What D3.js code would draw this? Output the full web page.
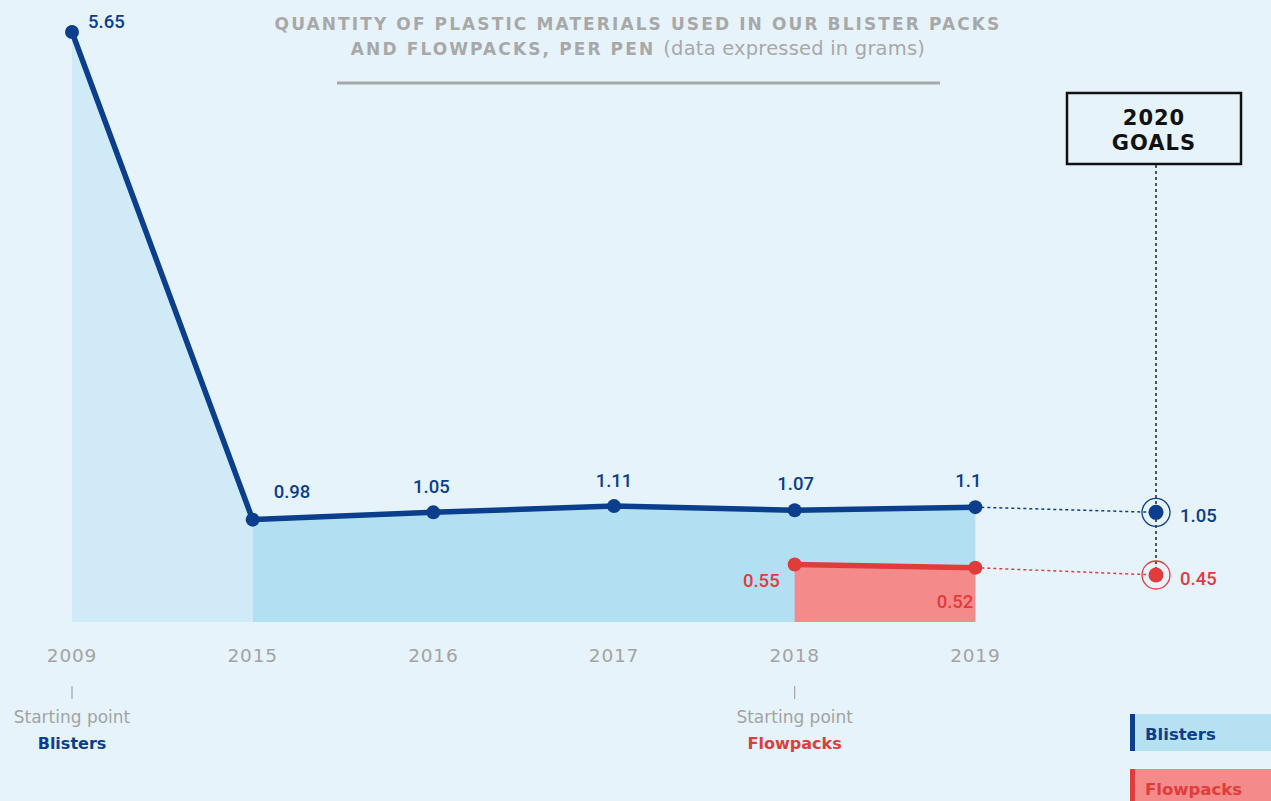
<!DOCTYPE html>
<html>
<head>
<meta charset="utf-8">
<script src="https://cdn.jsdelivr.net/npm/d3@7"></script>
<style>
  html, body { margin: 0; padding: 0; background: #e6f3fa; }
  svg { display: block; }
  text { font-family: "DejaVu Sans", sans-serif; }
  .year { font-size: 18.5px; fill: #a3a3a3; letter-spacing: 0.8px; }
  .title { font-weight: bold; font-size: 17px; fill: #a8a8a8; letter-spacing: 2.1px; }
  .val { font-family: Roboto, "Liberation Sans", sans-serif; font-weight: 500; font-size: 18.5px; }
</style>
</head>
<body>
<div id="chart"></div>
<script>
// data
const years = ['2009', '2015', '2016', '2017', '2018', '2019'];
const blisters = [5.65, 0.98, 1.05, 1.11, 1.07, 1.1];
const flowYears = ['2018', '2019'];
const flowpacks = [0.55, 0.52];
const goalYear = '2020';
const goalBlisters = 1.05;
const goalFlowpacks = 0.45;

const W = 1271, H = 801;
const blue = '#0b3e8c', red = '#e03c3c';

const svg = d3.select('#chart').append('svg')
  .attr('width', W).attr('height', H);

svg.append('rect').attr('width', W).attr('height', H).attr('fill', '#e6f3fa');

const x = d3.scalePoint().domain([...years, goalYear]).range([72, 1156]);
const y = d3.scaleLinear().domain([0, 5.65]).range([622, 32]);

const bData = years.map((yr, i) => ({ yr, v: blisters[i] }));
const fData = flowYears.map((yr, i) => ({ yr, v: flowpacks[i] }));

const area = d3.area().x(d => x(d.yr)).y0(y(0)).y1(d => y(d.v));
const line = d3.line().x(d => x(d.yr)).y(d => y(d.v));

// areas
svg.append('path').datum(bData.slice(0, 2)).attr('d', area).attr('fill', '#d0ebf7');
svg.append('path').datum(bData.slice(1)).attr('d', area).attr('fill', '#b2e0f2');
svg.append('path').datum(fData).attr('d', area).attr('fill', '#f48a89');

// title
const title = svg.append('text').attr('text-anchor', 'middle').attr('class', 'title');
title.append('tspan').attr('x', 638).attr('y', 30).text('QUANTITY OF PLASTIC MATERIALS USED IN OUR BLISTER PACKS');
const t2 = title.append('tspan').attr('x', 638).attr('y', 55);
t2.append('tspan').text('AND FLOWPACKS, PER PEN ');
t2.append('tspan').attr('font-weight', 'normal').attr('letter-spacing', 0.2).attr('font-size', 19.5).text('(data expressed in grams)');
svg.append('line').attr('x1', 337).attr('x2', 940).attr('y1', 83).attr('y2', 83)
  .attr('stroke', '#a8a8a8').attr('stroke-width', 3);

// goals box + vertical dotted guide
const gx = x(goalYear);
svg.append('line').attr('x1', gx).attr('x2', gx).attr('y1', 165).attr('y2', y(goalFlowpacks))
  .attr('stroke', '#222').attr('stroke-width', 1.5).attr('stroke-dasharray', '3,3');
svg.append('rect').attr('x', 1067).attr('y', 93).attr('width', 174).attr('height', 71)
  .attr('fill', '#e6f3fa').attr('stroke', '#111').attr('stroke-width', 2.5);
const gt = svg.append('text').attr('text-anchor', 'middle')
  .attr('font-weight', 'bold').attr('letter-spacing', 1)
  .attr('font-size', 21).attr('fill', '#111');
gt.append('tspan').attr('x', 1154).attr('y', 125).text('2020');
gt.append('tspan').attr('x', 1154).attr('y', 150).text('GOALS');

// projection dotted lines
svg.append('line').attr('x1', x('2019')).attr('y1', y(1.1)).attr('x2', gx).attr('y2', y(goalBlisters))
  .attr('stroke', blue).attr('stroke-width', 1.5).attr('stroke-dasharray', '3,3');
svg.append('line').attr('x1', x('2019')).attr('y1', y(0.52)).attr('x2', gx).attr('y2', y(goalFlowpacks))
  .attr('stroke', red).attr('stroke-width', 1.5).attr('stroke-dasharray', '3,3');

// lines
svg.append('path').datum(bData).attr('d', line).attr('fill', 'none')
  .attr('stroke', blue).attr('stroke-width', 5.5).attr('stroke-linejoin', 'round');
svg.append('path').datum(fData).attr('d', line).attr('fill', 'none')
  .attr('stroke', red).attr('stroke-width', 5.5);

svg.selectAll('.bdot').data(bData).join('circle')
  .attr('cx', d => x(d.yr)).attr('cy', d => y(d.v)).attr('r', 7).attr('fill', blue);
svg.selectAll('.fdot').data(fData).join('circle')
  .attr('cx', d => x(d.yr)).attr('cy', d => y(d.v)).attr('r', 7).attr('fill', red);

// goal markers
[[goalBlisters, blue], [goalFlowpacks, red]].forEach(([v, c]) => {
  svg.append('circle').attr('cx', gx).attr('cy', y(v)).attr('r', 14)
    .attr('fill', 'none').attr('stroke', c).attr('stroke-width', 1.3);
  svg.append('circle').attr('cx', gx).attr('cy', y(v)).attr('r', 7.5).attr('fill', c);
  svg.append('text').attr('class', 'val').attr('x', gx + 24).attr('y', y(v) + 10)
    .attr('fill', c).text(v.toFixed(2));
});

// value labels blisters
const bLab = [
  { dx: 16, dy: -4, anchor: 'start' },
  { dx: 21, dy: -22, anchor: 'start' },
  { dx: -2, dy: -19, anchor: 'middle' },
  { dx: 0, dy: -19, anchor: 'middle' },
  { dx: 1, dy: -20, anchor: 'middle' },
  { dx: -7, dy: -20, anchor: 'middle' }
];
svg.selectAll('.blab').data(bData).join('text')
  .attr('class', 'val')
  .attr('x', (d, i) => x(d.yr) + bLab[i].dx)
  .attr('y', (d, i) => y(d.v) + bLab[i].dy)
  .attr('text-anchor', (d, i) => bLab[i].anchor)
  .attr('fill', blue)
  .text(d => d.v);

// value labels flowpacks
const fLab = [{ dx: -15, dy: 22 }, { dx: -2, dy: 40 }];
svg.selectAll('.flab').data(fData).join('text')
  .attr('class', 'val')
  .attr('x', (d, i) => x(d.yr) + fLab[i].dx)
  .attr('y', (d, i) => y(d.v) + fLab[i].dy)
  .attr('text-anchor', 'end')
  .attr('fill', red)
  .text(d => d.v.toFixed(2));

// x axis labels
svg.selectAll('.year').data(years).join('text')
  .attr('class', 'year')
  .attr('x', d => x(d)).attr('y', 662)
  .attr('text-anchor', 'middle').text(d => d);

// starting point notes
[['2009', 'Blisters', blue], ['2018', 'Flowpacks', red]].forEach(([yr, name, c]) => {
  const cx = x(yr);
  svg.append('line').attr('x1', cx).attr('x2', cx).attr('y1', 686).attr('y2', 699)
    .attr('stroke', '#a3a3a3').attr('stroke-width', 1.2);
  svg.append('text').attr('x', cx).attr('y', 723).attr('text-anchor', 'middle')
    .attr('font-size', 17).attr('fill', '#a3a3a3')
    .text('Starting point');
  svg.append('text').attr('x', cx).attr('y', 749).attr('text-anchor', 'middle')
    .attr('font-weight', 'bold')
    .attr('font-size', 16).attr('fill', c).text(name);
});

// legend
const legend = [['Blisters', '#b5e1f2', blue, 714], ['Flowpacks', '#f48a89', red, 769]];
legend.forEach(([name, fill, c, ly]) => {
  svg.append('rect').attr('x', 1130).attr('y', ly).attr('width', 141).attr('height', 37).attr('fill', fill);
  svg.append('rect').attr('x', 1130).attr('y', ly).attr('width', 5).attr('height', 37).attr('fill', c);
  svg.append('text').attr('x', 1145).attr('y', ly + 26)
    .attr('font-weight', 'bold')
    .attr('font-size', 16.5).attr('fill', c).text(name);
});
</script>
</body>
</html>
